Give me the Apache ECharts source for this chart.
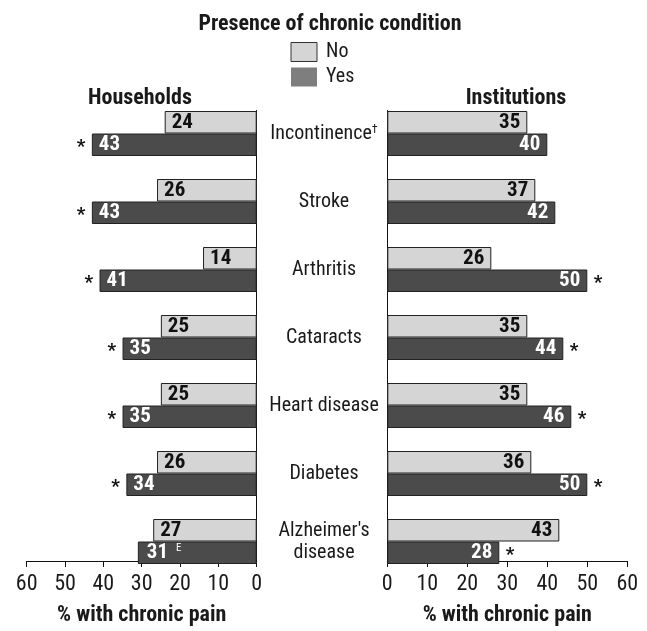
<!DOCTYPE html>
<html>
<head>
<meta charset="utf-8">
<script src="https://cdn.jsdelivr.net/npm/echarts@6/dist/echarts.min.js"></script>
<style>html,body{margin:0;padding:0;background:#fff}#c{width:647px;height:631px}</style>
</head>
<body>
<div id="c"></div>
<script>
// ---- data ----
const categories = ['Incontinence†', 'Stroke', 'Arthritis', 'Cataracts', 'Heart disease', 'Diabetes', "Alzheimer's\ndisease"];
const householdsNo = [24, 26, 14, 25, 25, 26, 27];
const householdsYes = [43, 43, 41, 35, 35, 34, 31];
const householdsYesNote = ['*', '*', '*', '*', '*', '*', 'E'];
const institutionsNo = [35, 37, 26, 35, 35, 36, 43];
const institutionsYes = [40, 42, 50, 44, 46, 50, 28];
const institutionsYesNote = ['', '', '*', '*', '*', '*', '*'];
const xTicks = [0, 10, 20, 30, 40, 50, 60];

// ---- styling ----
const F = '"Roboto Condensed", "Liberation Sans Narrow", "Arial Narrow", "Liberation Sans", sans-serif';
const TXT = '#1a1a1a';
const LIGHT = '#d5d5d5';
const DARK = '#4b4b4b';
const BORDER = '#222222';

// bar grids (category bands) and frame grids (axes hugging the bars)
const GTOP = 99.5, GH = 476;
const FTOP = 110.5, FH = 453.5;
const LEFT0 = 256.7, LW = 230;
const RIGHT0 = 387.3, RW = 240;

const chart = echarts.init(document.getElementById('c'), null, {renderer: 'canvas'});

const VFS = 21;
const valLabel = (color) => ({
  show: true, fontFamily: F, fontWeight: 'bold', fontSize: VFS, color: color, distance: 7
});

const hhYesData = householdsYes.map((v, i) => {
  const note = householdsYesNote[i];
  if (note === '*') {
    return {value: v, label: {formatter: '{a|*}{v|' + v + '}', offset: [-22, 0]}};
  } else if (note === 'E') {
    return {value: v, label: {formatter: '{v|' + v + '}{e|E}', offset: [2, 0]}};
  }
  return v;
});
const instYesData = institutionsYes.map((v, i) => {
  const note = institutionsYesNote[i];
  if (note === '*') {
    return {value: v, label: {formatter: '{v|' + v + '}{a|*}', offset: [22, 0]}};
  }
  return v;
});

const richYes = {
  v: {fontFamily: F, fontWeight: 'bold', fontSize: VFS, color: '#ffffff'},
  a: {fontFamily: F, fontWeight: 'bold', fontSize: 19, color: '#111', width: 22, padding: [4, 0, 0, 0]},
  e: {fontFamily: F, fontWeight: 'normal', fontSize: 11, color: '#ffffff', padding: [0, 0, 9, 8]}
};

const frameX = {
  type: 'value', min: 0, max: 60, interval: 10,
  axisLine: {show: true, lineStyle: {color: '#111', width: 1}},
  axisTick: {show: true, length: 6, lineStyle: {color: '#111'}},
  axisLabel: {fontFamily: F, fontSize: 22, color: TXT, margin: 12,
    formatter: (v) => xTicks.includes(v) ? String(v) : ''},
  splitLine: {show: false},
  name: '% with chronic pain', nameLocation: 'middle', nameGap: 43,
  nameTextStyle: {fontFamily: F, fontWeight: 'bold', fontSize: 22, color: TXT}
};
const frameY = {
  type: 'value', min: 0, max: 1,
  axisLine: {show: true, onZero: false, lineStyle: {color: '#111', width: 1}},
  axisTick: {show: false}, axisLabel: {show: false}, splitLine: {show: false}
};

const option = {
  backgroundColor: '#ffffff',
  animation: false,
  title: [
    {text: 'Presence of chronic condition', left: 325, top: 8, textAlign: 'center',
      textStyle: {fontFamily: F, fontWeight: 'bold', fontSize: 22, color: TXT}},
    {text: 'Households', left: 135, top: 82, textAlign: 'center',
      textStyle: {fontFamily: F, fontWeight: 'bold', fontSize: 22, color: TXT}},
    {text: 'Institutions', left: 511, top: 82, textAlign: 'center',
      textStyle: {fontFamily: F, fontWeight: 'bold', fontSize: 22, color: TXT}}
  ],
  legend: {
    orient: 'vertical', left: 290.5, top: 42, itemWidth: 26, itemHeight: 19, itemGap: 5,
    padding: 0,
    textStyle: {fontFamily: F, fontSize: 20, color: TXT, padding: [0, 0, 0, 4]},
    data: [
      {name: 'No', icon: 'rect', itemStyle: {color: LIGHT, borderColor: '#333', borderWidth: 1}},
      {name: 'Yes', icon: 'rect', itemStyle: {color: '#7e7e7e', borderWidth: 0}}
    ]
  },
  grid: [
    {left: LEFT0 - LW, top: GTOP, width: LW, height: GH},
    {left: RIGHT0, top: GTOP, width: RW, height: GH},
    {left: LEFT0 - LW, top: FTOP, width: LW, height: FH},
    {left: RIGHT0, top: FTOP, width: RW, height: FH}
  ],
  xAxis: [
    {type: 'value', gridIndex: 0, min: 0, max: 60, inverse: true, show: false},
    {type: 'value', gridIndex: 1, min: 0, max: 60, show: false},
    Object.assign({}, frameX, {gridIndex: 2, inverse: true}),
    Object.assign({}, frameX, {gridIndex: 3})
  ],
  yAxis: [
    {type: 'category', gridIndex: 0, data: categories, inverse: true, show: false},
    {type: 'category', gridIndex: 1, data: categories, inverse: true, position: 'left',
      axisLine: {show: false}, axisTick: {show: false},
      axisLabel: {show: true, align: 'center', margin: RIGHT0 - 324, fontFamily: F, fontSize: 20,
        color: TXT, lineHeight: 22,
        formatter: (v) => v.replace('†', '{s|†}'),
        rich: {s: {fontFamily: F, fontSize: 12, color: TXT, padding: [0, 0, 8, 0]}}}},
    Object.assign({}, frameY, {gridIndex: 2, position: 'right'}),
    Object.assign({}, frameY, {gridIndex: 3, position: 'left'})
  ],
  series: [
    {name: 'No', type: 'bar', xAxisIndex: 0, yAxisIndex: 0, data: householdsNo,
      barWidth: 22.5, barGap: '0%',
      itemStyle: {color: LIGHT, borderColor: BORDER, borderWidth: 1},
      label: Object.assign(valLabel('#111'), {position: 'insideLeft'})},
    {name: 'Yes', type: 'bar', xAxisIndex: 0, yAxisIndex: 0, data: hhYesData,
      barWidth: 22.5, barGap: '0%',
      itemStyle: {color: DARK, borderColor: BORDER, borderWidth: 1},
      label: Object.assign(valLabel('#fff'), {position: 'insideLeft', rich: richYes})},
    {name: 'No', type: 'bar', xAxisIndex: 1, yAxisIndex: 1, data: institutionsNo,
      barWidth: 22.5, barGap: '0%',
      itemStyle: {color: LIGHT, borderColor: BORDER, borderWidth: 1},
      label: Object.assign(valLabel('#111'), {position: 'insideRight'})},
    {name: 'Yes', type: 'bar', xAxisIndex: 1, yAxisIndex: 1, data: instYesData,
      barWidth: 22.5, barGap: '0%',
      itemStyle: {color: DARK, borderColor: BORDER, borderWidth: 1},
      label: Object.assign(valLabel('#fff'), {position: 'insideRight',
        rich: Object.assign({}, richYes, {a: Object.assign({}, richYes.a, {align: 'right'})})})}
  ]
};
chart.setOption(option);
</script>
</body>
</html>
